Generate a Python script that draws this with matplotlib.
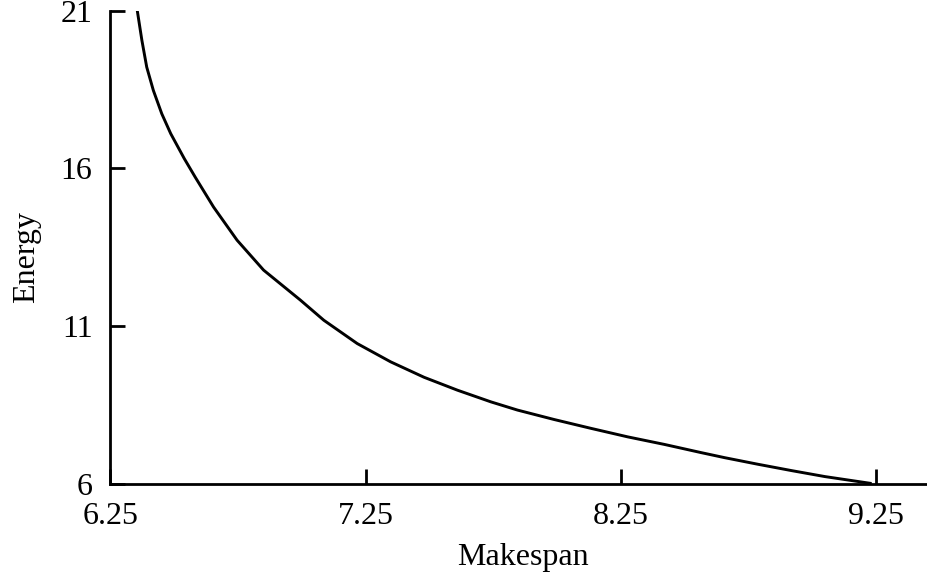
import matplotlib
matplotlib.use("Agg")
import matplotlib.pyplot as plt

# values
makespan = [6.355, 6.373, 6.392, 6.418, 6.451, 6.486, 6.539, 6.582, 6.654,
            6.746, 6.850, 6.994, 7.086, 7.217, 7.348, 7.479, 7.610, 7.741,
            7.845, 7.989, 8.133, 8.277, 8.421, 8.565, 8.657, 8.788, 8.919,
            9.050, 9.233]
energy = [21.0, 20.06, 19.21, 18.47, 17.73, 17.10, 16.31, 15.72, 14.77,
          13.72, 12.77, 11.82, 11.18, 10.44, 9.86, 9.37, 8.96, 8.59,
          8.33, 8.03, 7.75, 7.48, 7.24, 6.98, 6.82, 6.61, 6.41,
          6.22, 6.0]

x_ticks = [6.25, 7.25, 8.25, 9.25]
y_ticks = [6, 11, 16, 21]

plt.rcParams["font.family"] = ["Liberation Serif", "DejaVu Serif"]

fig = plt.figure(figsize=(9.27, 5.75), dpi=100)
ax = fig.add_axes([0.1192, 0.1591, 0.8808, 0.8223])

ax.plot(makespan, energy, color="black", linewidth=2.1,
        solid_joinstyle="round", solid_capstyle="butt")

ax.set_xlim(6.25, 9.45)
ax.set_ylim(6, 21)
ax.set_xticks(x_ticks)
ax.set_xticklabels([str(t) for t in x_ticks])
ax.set_yticks(y_ticks)

for side in ["top", "right"]:
    ax.spines[side].set_visible(False)
for side in ["left", "bottom"]:
    ax.spines[side].set_linewidth(2.0)
    ax.spines[side].set_capstyle("projecting")

ax.tick_params(direction="in", length=11, width=2.0, labelsize=23)
ax.tick_params(axis="x", pad=13)
ax.tick_params(axis="y", pad=13)

ax.set_xlabel("Makespan", fontsize=23, labelpad=9, x=0.505)
ax.set_ylabel("Energy", fontsize=23, labelpad=14, y=0.478)

fig.savefig("out.png", dpi=100)
